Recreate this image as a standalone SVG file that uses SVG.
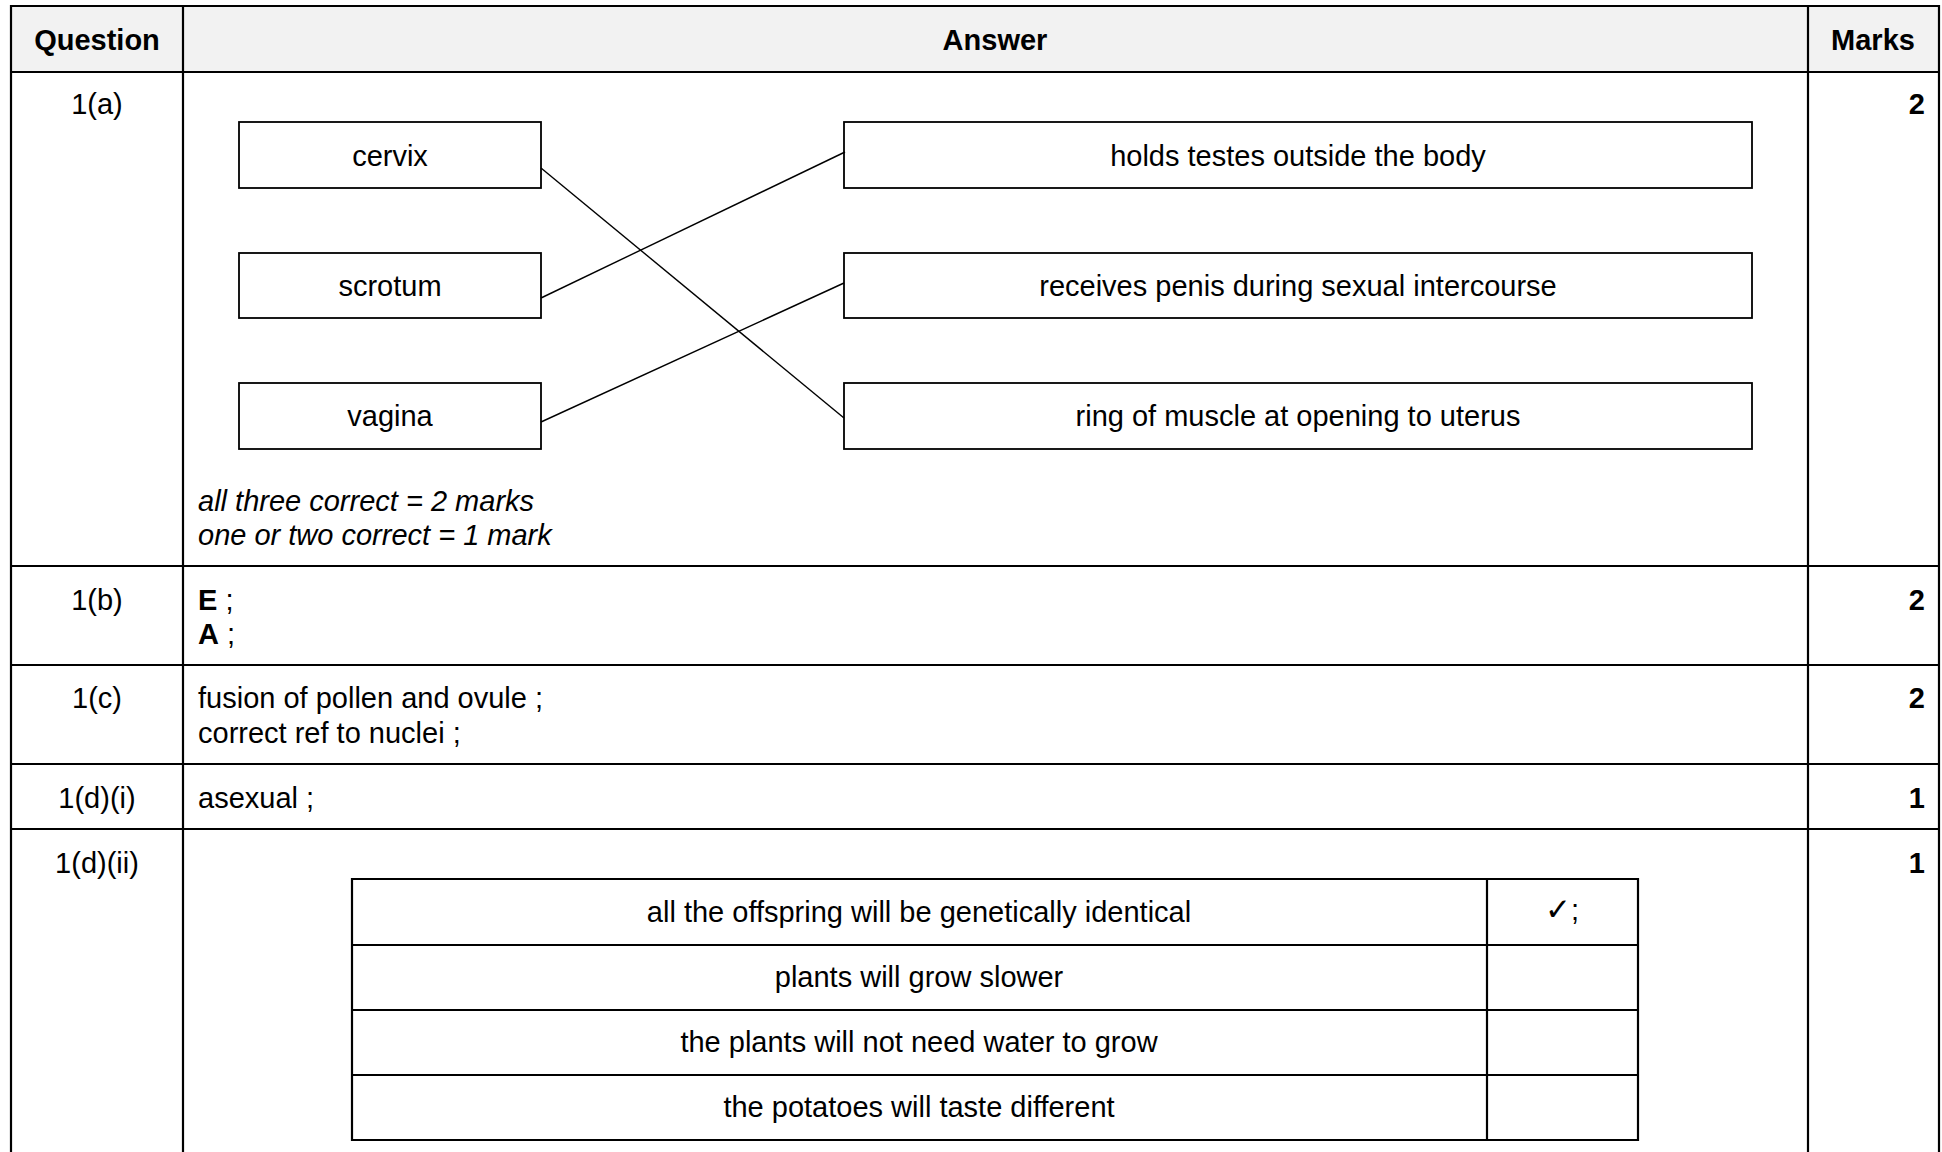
<svg xmlns="http://www.w3.org/2000/svg" width="1942" height="1152" viewBox="0 0 1942 1152">
<style>
text{font-family:"Liberation Sans",Arial,sans-serif;font-size:29px;fill:#000}
.b{font-weight:bold}
.i{font-style:italic}
.c{text-anchor:middle}
.r{text-anchor:end}
.grid{stroke:#000;stroke-width:2.2;fill:none}
.box{fill:#fff;stroke:#000;stroke-width:1.8}
.conn{stroke:#000;stroke-width:1.4;fill:none}
.chk{font-family:"DejaVu Sans",sans-serif;font-size:31px}
</style>
<rect width="1942" height="1152" fill="#fff"/>
<g id="table">
<rect x="11" y="6" width="1928" height="66" fill="#f2f2f2"/>
<path class="grid" d="M11 1152V6H1939V1152M183 6V1152M1808 6V1152M11 72H1939M11 566H1939M11 665H1939M11 764H1939M11 829H1939"/>
<text class="b c" x="97" y="50">Question</text>
<text class="b c" x="995" y="50">Answer</text>
<text class="b c" x="1873" y="50">Marks</text>
</g>
<g id="row-1a">
<text class="c" x="97" y="114">1(a)</text>
<text class="b r" x="1925" y="114">2</text>
<text class="i" x="198" y="510.5">all three correct = 2 marks</text>
<text class="i" x="198" y="544.5">one or two correct = 1 mark</text>
</g>
<g id="node-cervix"><rect class="box" x="239" y="122" width="302" height="66"/><text class="c" x="390" y="165.5">cervix</text></g>
<g id="node-scrotum"><rect class="box" x="239" y="253" width="302" height="65"/><text class="c" x="390" y="296">scrotum</text></g>
<g id="node-vagina"><rect class="box" x="239" y="383" width="302" height="66"/><text class="c" x="390" y="426">vagina</text></g>
<g id="node-holds"><rect class="box" x="844" y="122" width="908" height="66"/><text class="c" x="1298" y="165.5">holds testes outside the body</text></g>
<g id="node-receives"><rect class="box" x="844" y="253" width="908" height="65"/><text class="c" x="1298" y="296">receives penis during sexual intercourse</text></g>
<g id="node-ring"><rect class="box" x="844" y="383" width="908" height="66"/><text class="c" x="1298" y="426">ring of muscle at opening to uterus</text></g>
<g id="connectors">
<line class="conn" x1="541" y1="168" x2="844" y2="418"/>
<line class="conn" x1="541" y1="298" x2="845" y2="152"/>
<line class="conn" x1="541" y1="422" x2="844" y2="283"/>
</g>
<g id="row-1b">
<text class="c" x="97" y="610">1(b)</text>
<text x="198" y="610"><tspan class="b">E</tspan> ;</text>
<text x="198" y="643.5"><tspan class="b">A</tspan> ;</text>
<text class="b r" x="1925" y="610">2</text>
</g>
<g id="row-1c">
<text class="c" x="97" y="708">1(c)</text>
<text x="198" y="708">fusion of pollen and ovule ;</text>
<text x="198" y="742.5">correct ref to nuclei ;</text>
<text class="b r" x="1925" y="708">2</text>
</g>
<g id="row-1di">
<text class="c" x="97" y="808">1(d)(i)</text>
<text x="198" y="808">asexual ;</text>
<text class="b r" x="1925" y="808">1</text>
</g>
<g id="row-1dii">
<text class="c" x="97" y="873">1(d)(ii)</text>
<text class="b r" x="1925" y="873">1</text>
<path class="grid" d="M352 879H1638V1140H352ZM1487 879V1140M352 945H1638M352 1010H1638M352 1075H1638"/>
<text class="c" x="919" y="922">all the offspring will be genetically identical</text>
<text class="c" x="919" y="987">plants will grow slower</text>
<text class="c" x="919" y="1052">the plants will not need water to grow</text>
<text class="c" x="919" y="1117">the potatoes will taste different</text>
<text class="c" x="1562" y="920"><tspan class="chk">✓</tspan>;</text>
</g>
</svg>
